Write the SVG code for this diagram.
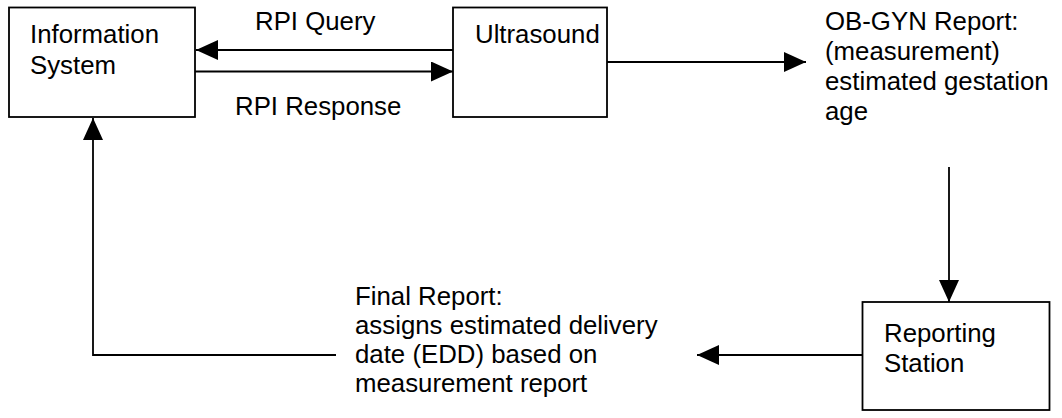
<svg xmlns="http://www.w3.org/2000/svg" width="1062" height="418" viewBox="0 0 1062 418">
<style>
.box{fill:#fff;stroke:#000;stroke-width:1.8}
.t{font-family:"Liberation Sans",Arial,sans-serif;font-size:25.8px;fill:#000}
.c{fill:none;stroke:#000;stroke-width:1.8}
</style>
<defs>
<marker id="ah" viewBox="0 0 22 20" refX="22" refY="10" markerWidth="22" markerHeight="20" markerUnits="userSpaceOnUse" orient="auto">
<path d="M0,0 L22,10 L0,20 Z" fill="#000"/>
</marker>
</defs>
<rect width="1062" height="418" fill="#fff"/>
<g id="connectors">
<line class="c" x1="453" y1="50" x2="196" y2="50" marker-end="url(#ah)"/>
<line class="c" x1="195" y1="71.5" x2="453" y2="71.5" marker-end="url(#ah)"/>
<line class="c" x1="607" y1="62" x2="806" y2="62" marker-end="url(#ah)"/>
<line class="c" x1="949" y1="167" x2="949" y2="302" marker-end="url(#ah)"/>
<line class="c" x1="862" y1="355" x2="697" y2="355" marker-end="url(#ah)"/>
<polyline class="c" points="336,355 93,355 93,118" marker-end="url(#ah)"/>
</g>
<g id="information-system">
<rect class="box" x="9" y="7.5" width="186" height="109.5"/>
<text class="t" x="30" y="43">Information</text>
<text class="t" x="30" y="74">System</text>
</g>
<g id="ultrasound">
<rect class="box" x="453" y="7.5" width="154" height="109.5"/>
<text class="t" x="475" y="43">Ultrasound</text>
</g>
<g id="reporting-station">
<rect class="box" x="862.5" y="302" width="187" height="108"/>
<text class="t" x="884" y="342">Reporting</text>
<text class="t" x="884" y="372">Station</text>
</g>
<g id="labels">
<text class="t" x="255" y="30">RPI Query</text>
<text class="t" x="235" y="115">RPI Response</text>
<text class="t" x="825" y="30">OB-GYN Report:</text>
<text class="t" x="825" y="60">(measurement)</text>
<text class="t" x="825" y="90">estimated gestation</text>
<text class="t" x="825" y="120">age</text>
<text class="t" x="355" y="305">Final Report:</text>
<text class="t" x="355" y="334">assigns estimated delivery</text>
<text class="t" x="355" y="363">date (EDD) based on</text>
<text class="t" x="355" y="392">measurement report</text>
</g>
</svg>
